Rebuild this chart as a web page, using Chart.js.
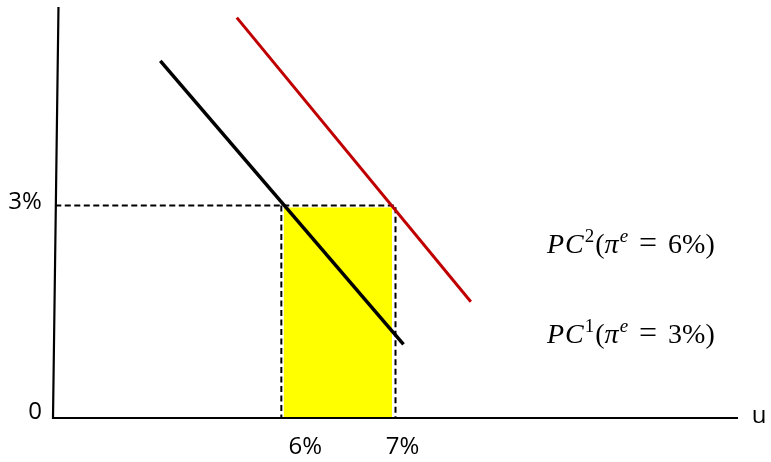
<!DOCTYPE html>
<html>
<head>
<meta charset="utf-8">
<script src="https://cdn.jsdelivr.net/npm/chart.js@4"></script>
<style>
  body { margin: 0; background: #fff; }
  #wrap { width: 771px; height: 462px; }
</style>
</head>
<body>
<div id="wrap"><canvas id="grafico" width="771" height="462"></canvas></div>
<script>
// schematic axes: u (unemployment) and inflation, both in %
const uRange = [4, 10];
const piRange = [0, 5.8];

// Phillips curves
const pc1U = [4.94, 7.07];
const pc1Pi = [5.04, 1.04];
const pc2U = [5.61, 7.66];
const pc2Pi = [5.65, 1.64];

// guide lines and shaded area
const guideU = [6, 7];
const guidePi = 3;
const shadeU = [6.02, 6.97];
const shadeTop = 2.97;

// tick labels
const xTickVals = [6, 7];
const xTickLabels = ['6%', '7%'];
const yTickVals = [0, 3];
const yTickLabels = ['0', '3%'];

const pts = (xs, ys) => xs.map((x, i) => ({ x: x, y: ys[i] }));

// texto rico: [texto, fonte, deslocamento vertical, espaço extra depois]
function drawRich(ctx, x, y, parts) {
  parts.forEach(p => {
    ctx.font = p[1];
    ctx.fillText(p[0], x, y + (p[2] || 0));
    x += ctx.measureText(p[0]).width + (p[3] || 0);
  });
}

const labelsPlugin = {
  id: 'labels',
  afterDraw(chart) {
    const ctx = chart.ctx;
    const xs = chart.scales.x;
    const ys = chart.scales.y;
    ctx.save();
    ctx.fillStyle = '#000';
    ctx.textBaseline = 'middle';
    ctx.font = '24px "Open Sans"';

    ctx.textAlign = 'center';
    yTickVals.forEach((v, i) => {
      ctx.fillText(yTickLabels[i], v === 0 ? 35 : 25, ys.getPixelForValue(v) + (v === 0 ? -6 : -3));
    });
    xTickVals.forEach((v, i) => {
      ctx.fillText(xTickLabels[i], xs.getPixelForValue(v) + (i === 0 ? 24 : 7), 447);
    });
    ctx.fillText('u', 759, ys.getPixelForValue(0) - 2);

    ctx.textAlign = 'left';
    ctx.textBaseline = 'alphabetic';
    const it = 'italic 28px "Liberation Serif"';
    const rm = '28px "Liberation Serif"';
    const eq = '32px "Liberation Serif"';
    const sup = '19px "Liberation Serif"';
    const supIt = 'italic 19px "Liberation Serif"';
    [['2', '6%)', 253], ['1', '3%)', 343]].forEach(l => {
      drawRich(ctx, 547, l[2], [
        ['P', it, 0, 1], ['C', it, 0, 1], [l[0], sup, -11, 1], ['(', rm], ['π', it, 0, 1], ['e', supIt, -11, 11],
        ['=', eq, 0, 11], [l[1], rm]
      ]);
    });
    ctx.restore();
  }
};

const dashed = { showLine: true, borderColor: '#000', borderWidth: 2, borderDash: [6, 3.5], pointRadius: 0 };

new Chart(document.getElementById('grafico'), {
  type: 'scatter',
  data: {
    datasets: [
      { data: pts(pc1U, pc1Pi), showLine: true, borderColor: '#000', borderWidth: 3.5, pointRadius: 0 },
      { data: pts(pc2U, pc2Pi), showLine: true, borderColor: '#c00000', borderWidth: 3, pointRadius: 0 },
      { data: [{ x: 4.048, y: piRange[1] }, { x: uRange[0], y: 0 }, { x: uRange[1], y: 0 }],
        showLine: true, borderColor: '#000', borderWidth: 2.2, pointRadius: 0, borderJoinStyle: 'miter', clip: 10 },
      Object.assign({ data: [{ x: 4.02, y: guidePi }, { x: guideU[1], y: guidePi }, { x: guideU[1], y: 0 }] }, dashed),
      Object.assign({ data: [{ x: guideU[0], y: guidePi }, { x: guideU[0], y: 0 }] }, dashed),
      { data: pts(shadeU, [shadeTop, shadeTop]), showLine: true, borderWidth: 0, borderColor: 'rgba(0,0,0,0)',
        backgroundColor: '#ffff00', fill: 'origin', pointRadius: 0 }
    ]
  },
  options: {
    responsive: false,
    animation: false,
    layout: { padding: { left: 53, right: 33, top: 7, bottom: 44 } },
    scales: {
      x: { type: 'linear', min: uRange[0], max: uRange[1], display: false },
      y: { type: 'linear', min: piRange[0], max: piRange[1], display: false }
    },
    plugins: {
      legend: { display: false },
      tooltip: { enabled: false }
    }
  },
  plugins: [labelsPlugin]
});
</script>
</body>
</html>
